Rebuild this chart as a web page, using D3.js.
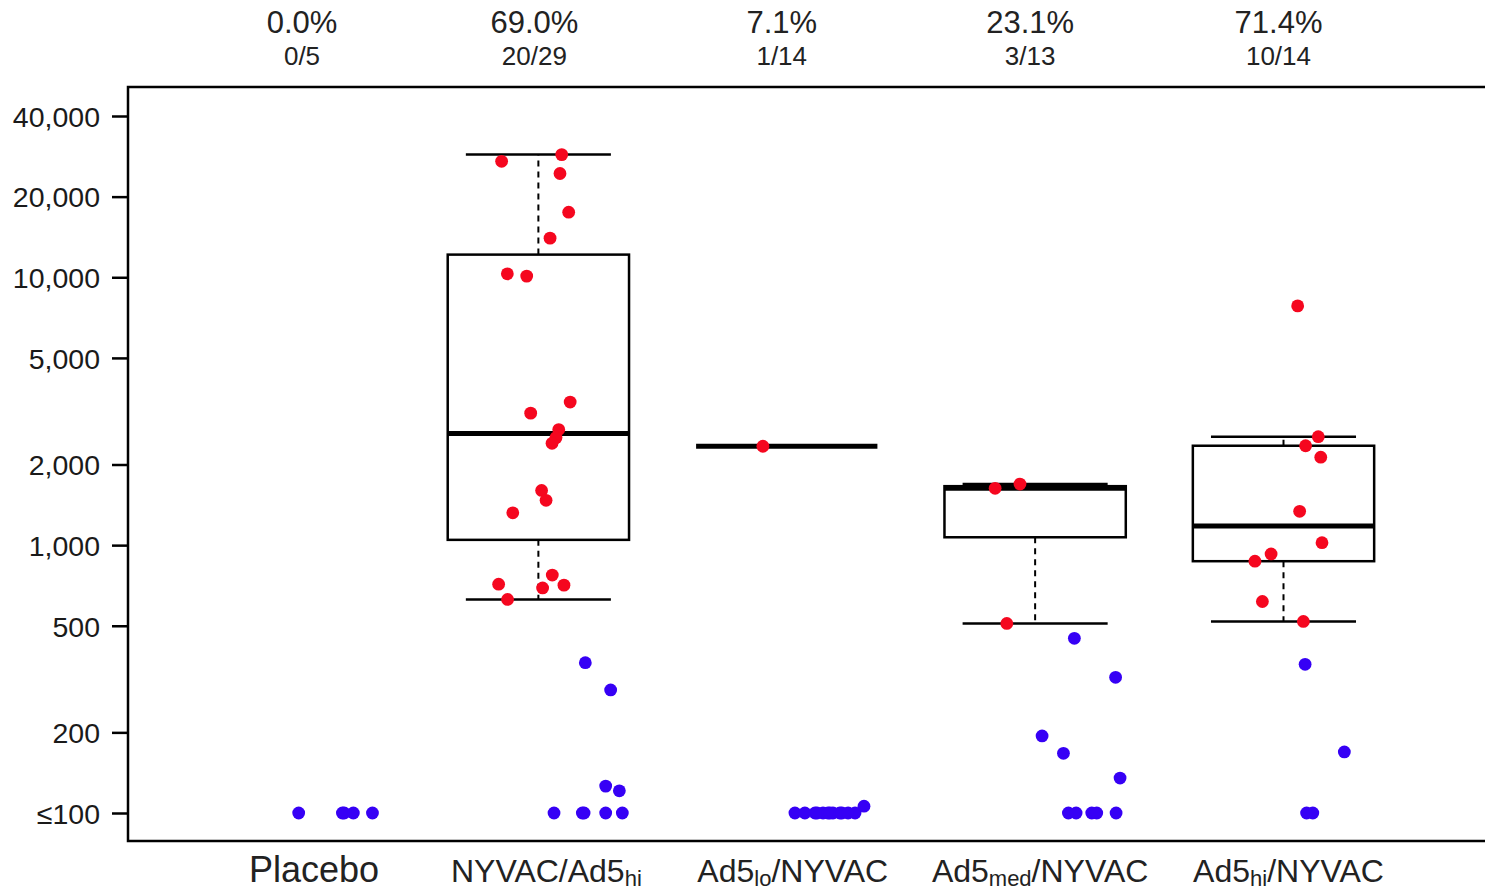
<!DOCTYPE html>
<html>
<head>
<meta charset="utf-8">
<script src="https://cdn.jsdelivr.net/npm/d3@7"></script>
<style>
  body { margin: 0; background: #fff; }
  svg text { font-family: "Liberation Sans", Arial, sans-serif; fill: #222; }
</style>
</head>
<body>
<div id="main"></div>
<script>
const width = 1485;
const height = 890;

// groups, left to right
const groups = ['Placebo', 'NYVAC/Ad5hi', 'Ad5lo/NYVAC', 'Ad5med/NYVAC', 'Ad5hi/NYVAC'];

// each point: [horizontal jitter in group units, titre]
const responders = [
  [],
  [[-0.148, 27100], [0.094, 28700], [0.087, 24400], [0.122, 17500], [0.047, 14000],
    [-0.125, 10300], [-0.047, 10100], [0.128, 3420], [-0.031, 3110], [0.082, 2700],
    [0.071, 2520], [0.055, 2400], [0.013, 1600], [0.031, 1470], [-0.103, 1320],
    [0.056, 773], [-0.160, 715], [0.103, 709], [0.017, 692], [-0.124, 627]],
  [[-0.096, 2340]],
  [[-0.161, 1630], [-0.061, 1690], [-0.114, 510]],
  [[0.057, 7820], [0.140, 2540], [0.089, 2350], [0.150, 2130], [0.065, 1337],
    [0.155, 1021], [-0.050, 927], [-0.115, 871], [-0.085, 616], [0.080, 519]],
];

const nonResponders = [
  [[0.035, 100], [0.211, 100], [0.218, 100], [0.255, 100], [0.332, 100]],
  [[0.189, 364], [0.291, 288], [0.271, 126], [0.326, 121], [0.063, 100],
    [0.177, 100], [0.184, 100], [0.271, 100], [0.338, 100]],
  [[0.033, 100], [0.073, 100], [0.114, 100], [0.122, 100], [0.146, 100], [0.166, 100],
    [0.174, 100], [0.186, 100], [0.214, 100], [0.222, 100], [0.247, 100], [0.275, 100],
    [0.311, 106]],
  [[0.158, 449], [0.324, 321], [0.028, 194], [0.114, 167], [0.342, 135],
    [0.134, 100], [0.165, 100], [0.228, 100], [0.248, 100], [0.326, 100]],
  [[0.087, 359], [0.245, 169], [0.093, 100], [0.118, 100]],
];

const tickValues = [100, 200, 500, 1000, 2000, 5000, 10000, 20000, 40000];
const tickLabels = ['≤100', '200', '500', '1,000', '2,000', '5,000', '10,000', '20,000', '40,000'];

const red = '#f5071f';
const blue = '#3600f5';

// frame of the plot
const frame = { left: 128, top: 87, bottom: 841 };
// small pixel nudges of the group labels, as in the original layout
const topNudge = [12, -4, -5, -5, -5];
const bottomNudge = [24, 8, 6, 5, 5];

const x = d3.scaleLinear().domain([1, 5]).range([290, 1283.5]);
const y = d3.scaleLog().domain([100, 40000]).range([813, 116]);
const unit = x(2) - x(1);
const boxHalf = 0.365;
const stapleHalf = 0.292;

const svg = d3.select('#main')
  .append('svg')
  .attr('width', width)
  .attr('height', height);

// R style five number summary
function fivenum(values) {
  const s = values.slice().sort((a, b) => a - b);
  const n = s.length;
  const n4 = Math.floor((n + 3) / 2) / 2;
  const d = [1, n4, (n + 1) / 2, n + 1 - n4, n];
  return d.map((k) => 0.5 * (s[Math.floor(k) - 1] + s[Math.ceil(k) - 1]));
}

function boxStats(values) {
  const f = fivenum(values);
  const iqr = f[3] - f[1];
  const lo = d3.min(values.filter((v) => v >= f[1] - 1.5 * iqr));
  const hi = d3.max(values.filter((v) => v <= f[3] + 1.5 * iqr));
  return { lo, q1: f[1], med: f[2], q3: f[3], hi };
}

svg.append('rect')
  .attr('x', frame.left)
  .attr('y', frame.top)
  .attr('width', width + 10 - frame.left)
  .attr('height', frame.bottom - frame.top)
  .attr('fill', 'none')
  .attr('stroke', '#000')
  .attr('stroke-width', 2.5);

const yAxis = svg.append('g')
  .attr('transform', `translate(${frame.left},0)`)
  .call(d3.axisLeft(y)
    .tickValues(tickValues)
    .tickFormat((d, i) => tickLabels[i])
    .tickSize(16)
    .tickPadding(12));

yAxis.select('.domain').remove();
yAxis.selectAll('.tick line').attr('stroke', '#000').attr('stroke-width', 2.5);
yAxis.selectAll('.tick text')
  .attr('font-size', 28.5)
  .attr('dy', '0.36em')
  .style('font-family', '"Liberation Sans", Arial, sans-serif')
  .style('fill', '#1a1a1a');

// boxes, drawn from the responders only
const boxes = svg.append('g');
responders.forEach((vals, i) => {
  if (!vals.length) return;
  const st = boxStats(vals.map((d) => d[1]));
  const cx = x(i + 1);
  const g = boxes.append('g');

  g.append('line')
    .attr('x1', cx).attr('x2', cx)
    .attr('y1', y(st.q3)).attr('y2', y(st.hi))
    .attr('stroke', '#000').attr('stroke-width', 2).attr('stroke-dasharray', '6,5');
  g.append('line')
    .attr('x1', cx).attr('x2', cx)
    .attr('y1', y(st.q1)).attr('y2', y(st.lo))
    .attr('stroke', '#000').attr('stroke-width', 2).attr('stroke-dasharray', '6,5');

  [st.lo, st.hi].forEach((v) => {
    g.append('line')
      .attr('x1', cx - stapleHalf * unit).attr('x2', cx + stapleHalf * unit)
      .attr('y1', y(v)).attr('y2', y(v))
      .attr('stroke', '#000').attr('stroke-width', 2.5);
  });

  g.append('rect')
    .attr('x', cx - boxHalf * unit)
    .attr('y', y(st.q3))
    .attr('width', 2 * boxHalf * unit)
    .attr('height', y(st.q1) - y(st.q3))
    .attr('fill', 'none')
    .attr('stroke', '#000')
    .attr('stroke-width', 2.5);

  g.append('line')
    .attr('x1', cx - boxHalf * unit).attr('x2', cx + boxHalf * unit)
    .attr('y1', y(st.med)).attr('y2', y(st.med))
    .attr('stroke', '#000').attr('stroke-width', 5);
});

// points
const pts = [];
groups.forEach((g, i) => {
  nonResponders[i].forEach((d) => pts.push({ g: i + 1, j: d[0], v: d[1], c: blue }));
  responders[i].forEach((d) => pts.push({ g: i + 1, j: d[0], v: d[1], c: red }));
});

svg.append('g')
  .selectAll('circle')
  .data(pts)
  .enter()
  .append('circle')
  .attr('cx', (d) => x(d.g + d.j))
  .attr('cy', (d) => y(d.v))
  .attr('r', 6.4)
  .attr('fill', (d) => d.c);

// response rates on top
const rateLabels = svg.append('g');
groups.forEach((g, i) => {
  const n = responders[i].length;
  const total = n + nonResponders[i].length;
  const cx = x(i + 1) + topNudge[i];
  rateLabels.append('text')
    .attr('x', cx).attr('y', 33)
    .attr('text-anchor', 'middle')
    .attr('font-size', 31)
    .text(`${(100 * n / total).toFixed(1)}%`);
  rateLabels.append('text')
    .attr('x', cx).attr('y', 65)
    .attr('text-anchor', 'middle')
    .attr('font-size', 26)
    .text(`${n}/${total}`);
});

// group labels with subscripts
const labelParts = [
  [['Placebo', false]],
  [['NYVAC/Ad5', false], ['hi', true]],
  [['Ad5', false], ['lo', true], ['/NYVAC', false]],
  [['Ad5', false], ['med', true], ['/NYVAC', false]],
  [['Ad5', false], ['hi', true], ['/NYVAC', false]],
];

labelParts.forEach((parts, i) => {
  const t = svg.append('text')
    .attr('x', x(i + 1) + bottomNudge[i])
    .attr('y', 882)
    .attr('text-anchor', 'middle')
    .attr('font-size', i === 0 ? 36 : 32);
  parts.forEach(([s, sub]) => {
    t.append('tspan')
      .attr('font-size', sub ? 22 : null)
      .attr('dy', sub ? 4 : (s.startsWith('/') ? -4 : 0))
      .text(s);
  });
});
</script>
</body>
</html>
